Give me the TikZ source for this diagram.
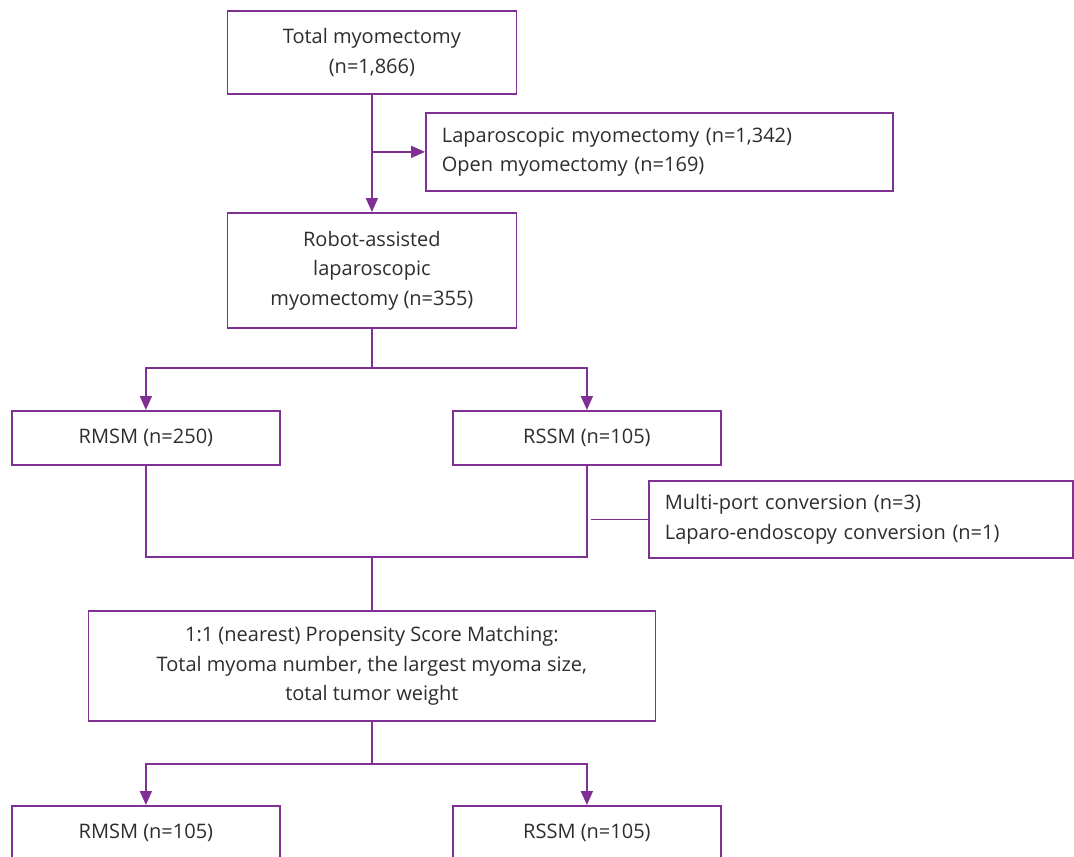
\documentclass[tikz,border=0pt]{standalone}
\usepackage{fontspec}
\setmainfont{Open Sans}
\usetikzlibrary{arrows.meta}
\definecolor{pl}{RGB}{128,48,148}
\definecolor{tx}{RGB}{45,45,45}
\begin{document}
\begin{tikzpicture}[x=1pt,y=-1pt,
  box/.style={draw=pl, line width=1.8pt, text=tx, font=\fontsize{20}{29.5}\selectfont, align=center, inner sep=0pt, anchor=north west},
  lbox/.style={box, align=left, inner xsep=16pt},
  ln/.style={draw=pl, line width=1.8pt},
  arr/.style={ln, -{Triangle[width=12pt,length=14pt]}}]
\useasboundingbox (0,0) rectangle (1074,857);
\clip (0,0) rectangle (1074,857);
\node[box, minimum width=289pt, minimum height=83pt] (tot) at (226.5,10) {Total myomectomy\\(n=1,866)};
\node[lbox, text width=435pt, minimum height=78pt] (lap) at (425,112) {Laparoscopic myomectomy (n=1,342)\\Open myomectomy (n=169)};
\node[box, minimum width=289pt, minimum height=115pt] (rob) at (226.5,212) {Robot-assisted\\laparoscopic\\myomectomy (n=355)};
\node[box, minimum width=268pt, minimum height=54pt] (rmsm) at (11,410) {RMSM (n=250)};
\node[box, minimum width=268pt, minimum height=54pt] (rssm) at (452,410) {RSSM (n=105)};
\node[lbox, text width=392pt, minimum height=77pt] (conv) at (648,480) {Multi-port conversion (n=3)\\Laparo-endoscopy conversion (n=1)};
\node[box, minimum width=567pt, minimum height=110pt] (psm) at (87.5,610) {1:1 (nearest) Propensity Score Matching:\\Total myoma number, the largest myoma size,\\total tumor weight};
\node[box, minimum width=268pt, minimum height=54pt] (rmsm2) at (11,805) {RMSM (n=105)};
\node[box, minimum width=268pt, minimum height=54pt] (rssm2) at (452,805) {RSSM (n=105)};
% connectors
\draw[arr] (tot.south) -- (rob.north);
\coordinate (b1) at (tot.south |- lap.west);
\draw[arr] (b1) -- (lap.west);
\coordinate (j1) at ([yshift=-39pt]rob.south);
\draw[ln] (rob.south) -- (j1);
\draw[arr] (j1) -| (rmsm.north);
\draw[arr] (j1) -| (rssm.north);
\coordinate (j2) at (psm.north |- 0,557);
\draw[ln] (rmsm.south) |- (rssm.south |- j2) -- (rssm.south);
\draw[ln] (j2) -- (psm.north);
\coordinate (c1) at ([xshift=4pt]rssm.south |- conv.west);
\draw[ln] (c1) -- (conv.west);
\coordinate (j3) at ([yshift=-42pt]psm.south);
\draw[ln] (psm.south) -- (j3);
\draw[arr] (j3) -| (rmsm2.north);
\draw[arr] (j3) -| (rssm2.north);
\end{tikzpicture}
\end{document}
